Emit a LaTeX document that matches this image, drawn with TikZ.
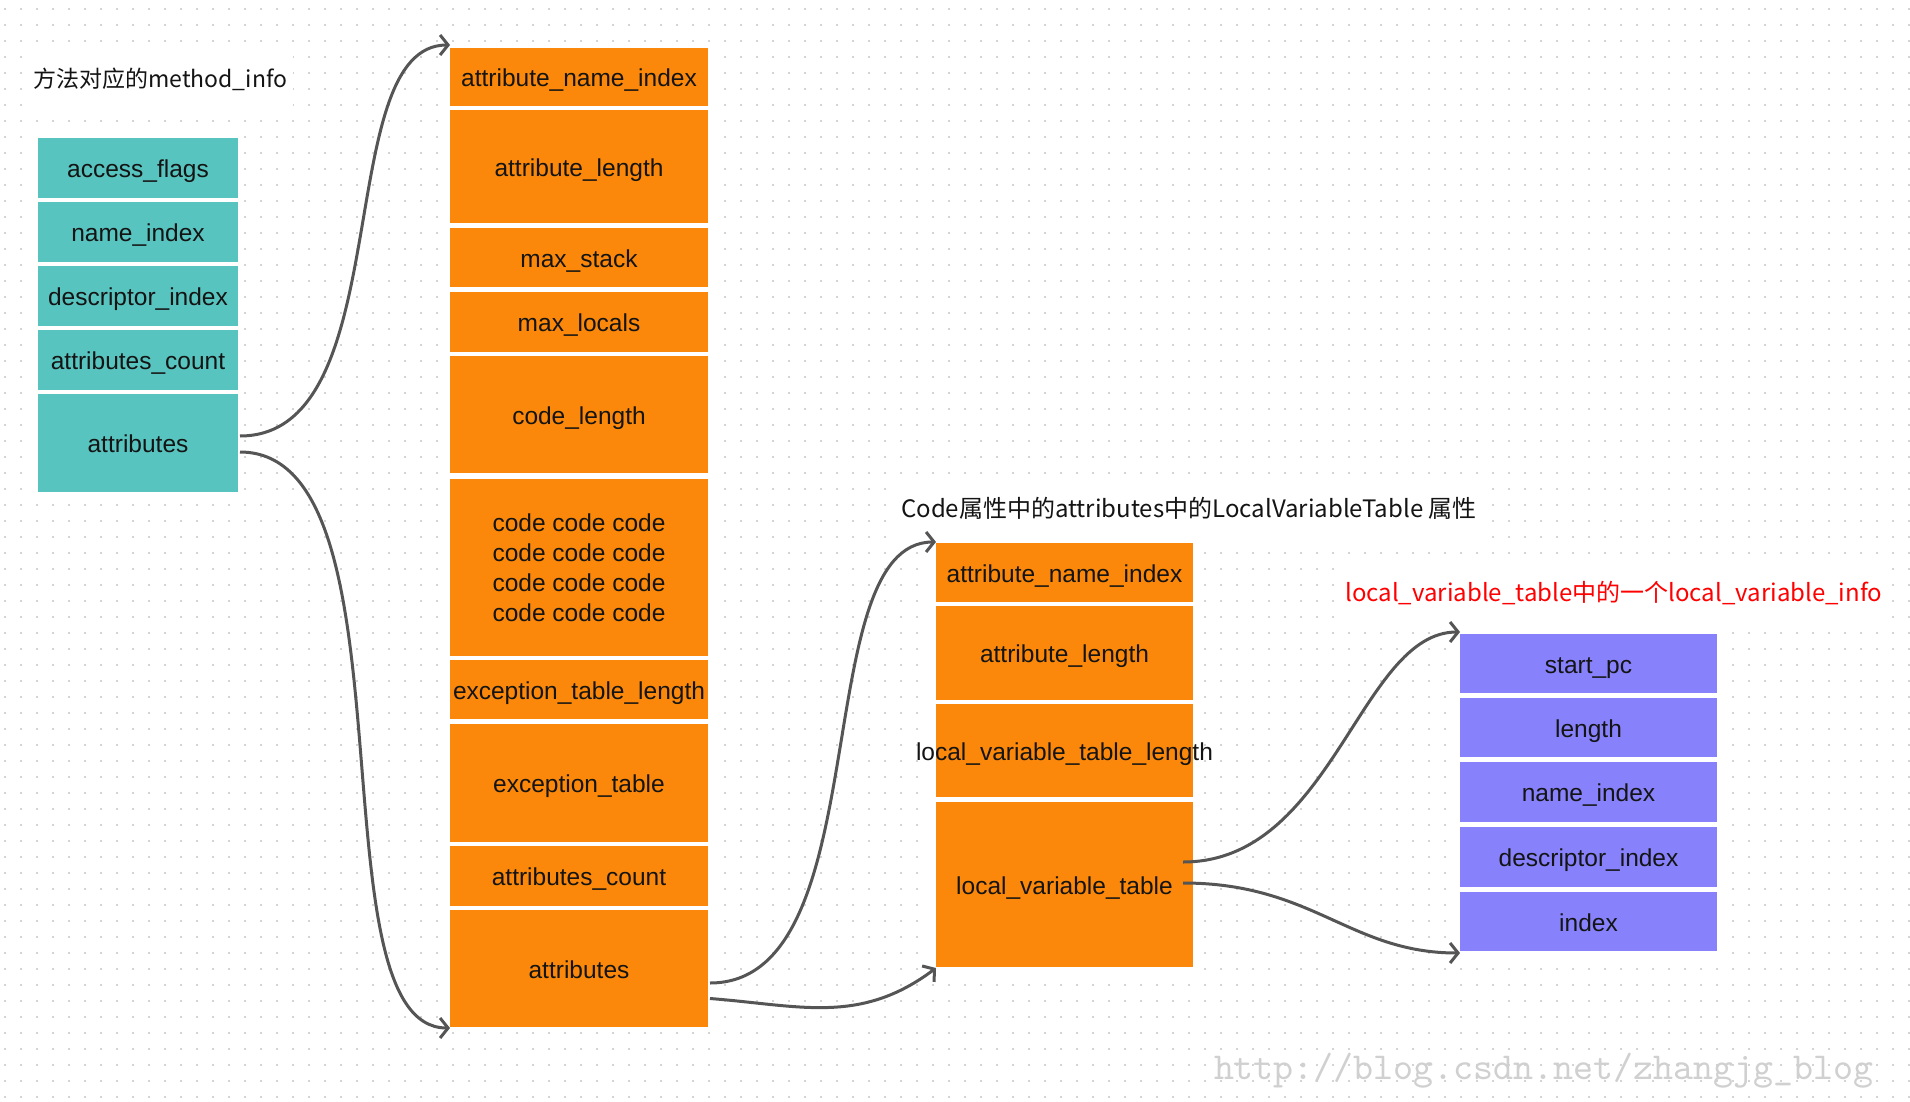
\documentclass[tikz,border=0pt]{standalone}
\usepackage{fontspec}
\usepackage{graphicx}
\setmainfont{Liberation Sans}
\newfontfamily\cjk{Noto Sans CJK SC}
\usetikzlibrary{arrows.meta,calc}
\definecolor{teal0}{RGB}{88,196,191}
\definecolor{orng}{RGB}{251,136,10}
\definecolor{purp}{RGB}{135,130,252}
\definecolor{lgray}{RGB}{85,85,85}
\definecolor{dotc}{RGB}{212,212,212}
\definecolor{wmc}{RGB}{208,208,208}
\definecolor{txt}{RGB}{20,20,20}
\begin{document}
\begin{tikzpicture}[x=1pt,y=-1pt,
  box0/.style={rectangle, inner sep=0pt, outer sep=0pt, draw=white, line width=4pt, text=txt, font=\fontsize{24.5}{30}\selectfont, align=center},
  box/.style={box0, text height=19.4pt, text depth=0pt},
  tbox/.style={box, fill=teal0, minimum width=204pt},
  obox/.style={box, fill=orng, minimum width=262pt},
  mbox/.style={box, fill=orng, minimum width=261pt},
  pbox/.style={box, fill=purp, minimum width=261pt},
  ttl/.style={font=\cjk\fontsize{24}{28}\selectfont, anchor=west, fill=white, inner xsep=6pt, minimum height=60pt, text=txt},
  conn/.style={draw=lgray, line width=3pt, -{Straight Barb[length=8pt,width=20pt]}}
]
\useasboundingbox (0,0) rectangle (1910,1102);
\fill[white] (0,0) rectangle (1910,1102);
% dotted background grid
\foreach \i in {0,...,119}
  \draw[dotc, line width=1.2pt, dash pattern=on 2pt off 14pt] (5+16*\i,8) -- (5+16*\i,1102);

% titles
\node[ttl, font=\cjk\fontsize{23}{28}\selectfont] (t1) at (27,79) {方法对应的method\_info};
\node[ttl] (t2) at (895,508) {Code属性中的attributes中的LocalVariableTable 属性};
\node[ttl, text=red] (t3) at (1339,593) {local\_variable\_table中的一个local\_variable\_info};

% method_info column
\node[tbox, minimum height=64pt]  (tacc)  at (138,168) {access\_flags};
\node[tbox, minimum height=64pt]  (tname) at (138,232) {name\_index};
\node[tbox, minimum height=64pt]  (tdesc) at (138,296) {descriptor\_index};
\node[tbox, minimum height=64pt]  (tcnt)  at (138,360) {attributes\_count};
\node[tbox, minimum height=102pt] (tattr) at (138,443) {attributes};

% Code attribute column
\node[obox, minimum height=62pt]  (oani)  at (579,77)    {attribute\_name\_index};
\node[obox, minimum height=117pt] (oal)   at (579,166.5) {attribute\_length};
\node[obox, minimum height=63pt]  (oms)   at (579,257.5) {max\_stack};
\node[obox, minimum height=64pt]  (oml)   at (579,322)   {max\_locals};
\node[obox, minimum height=121pt] (ocl)   at (579,414.5) {code\_length};
\node[box0, fill=orng, minimum width=262pt, minimum height=182pt] (ocode) at (579,567.5) {code code code\\code code code\\code code code\\code code code};
\node[obox, minimum height=63pt]  (oetl)  at (579,689.5) {exception\_table\_length};
\node[obox, minimum height=122pt] (oet)   at (579,783)   {exception\_table};
\node[obox, minimum height=64pt]  (oac)   at (579,876)   {attributes\_count};
\node[obox, minimum height=121pt] (oattr) at (579,968.5) {attributes};

% LocalVariableTable column
\node[mbox, minimum height=63pt]  (mani)  at (1064.5,572.5) {attribute\_name\_index};
\node[mbox, minimum height=98pt]  (mal)   at (1064.5,653)   {attribute\_length};
\node[mbox, minimum height=97pt]  (mlvtl) at (1064.5,750.5) {\makebox[0pt][c]{local\_variable\_table\_length}};
\node[mbox, minimum height=169pt] (mlvt)  at (1064.5,884.5) {local\_variable\_table};

% local_variable_info column
\node[pbox, minimum height=63pt] (pstart) at (1588.5,663.5) {start\_pc};
\node[pbox, minimum height=63pt] (plen)   at (1588.5,727.5) {length};
\node[pbox, minimum height=64pt] (pname)  at (1588.5,792)   {name\_index};
\node[pbox, minimum height=64pt] (pdesc)  at (1588.5,857)   {descriptor\_index};
\node[pbox, minimum height=63pt] (pindex) at (1588.5,921.5) {index};

% connectors
\draw[conn] ($(tattr.east)+(0,-7)$) .. controls +(160,0) and +(-120,0) .. ($(oani.north west)+(2,-1)$);
\draw[conn] ($(tattr.east)+(0,9)$) .. controls +(180,0) and +(-140,0) .. ($(oattr.south west)+(2,-1)$);
\draw[conn] ($(oattr.east)+(0,14.5)$) .. controls +(170,0) and +(-130,0) .. ($(mani.north west)+(2,1)$);
\draw[conn] ($(oattr.east)+(0,30)$) .. controls +(90,7) and +(-76,57) .. ($(mlvt.south west)+(2,-1)$);
\draw[conn] ($(mlvt.east)+(-12,-22.5)$) .. controls +(150,0) and +(-100,0) .. ($(pstart.north west)+(2,0)$);
\draw[conn] ($(mlvt.east)+(-12,-1.5)$) .. controls +(130,0) and +(-110,0) .. ($(pindex.south west)+(2,0)$);

% watermark
\node[inner sep=0pt] (wm) at (1543.5,1071) {\resizebox{659pt}{!}{\color{wmc}\ttfamily http://blog.csdn.net/zhangjg\_blog}};
\end{tikzpicture}
\end{document}
